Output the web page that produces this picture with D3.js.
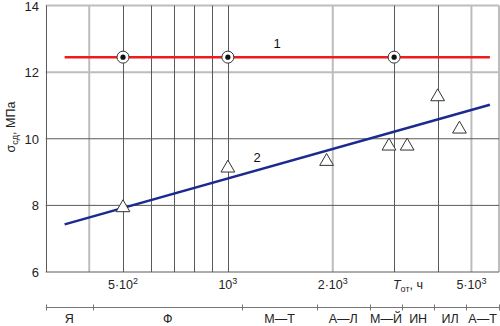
<!DOCTYPE html>
<html>
<head>
<meta charset="utf-8">
<script src="https://cdn.jsdelivr.net/npm/d3@7"></script>
<style>
  body { margin: 0; background: #fff; }
</style>
</head>
<body>
<div id="chart"></div>
<script>
// values
const yTicks = [6, 8, 10, 12, 14];
const yLight = [12, 14];
const xGridDark = [300, 500, 600, 700, 800, 900, 1000, 3000, 4000];
const xGridLight = [400, 2000, 5000, 6000];
const xTickHours = [500, 1000, 2000, 5000];
const xTickMant = ["5·10", "10", "2·10", "5·10"];
const xTickExp = ["2", "3", "3", "3"];

const line1 = [[340, 12.45], [5650, 12.45]];
const line1Marks = [500, 1000, 3000];
const line2 = [[340, 7.43], [5650, 11.02]];

const triHours = [500, 1000, 1920, 2900, 3270, 4000, 4620];
const triValues = [7.93, 9.12, 9.32, 9.78, 9.78, 11.26, 10.29];

const classNames = ["Я", "Ф", "М—Т", "А—Л", "М—Й", "ИН", "ИЛ", "А—Т"];
const classBounds = [300, 410, 1100, 1800, 2550, 3170, 3900, 4830, 6000];

const width = 500, height = 326;
const dark = "#5a5a5a", light = "#bdbdbd";

const svg = d3.select("#chart").append("svg")
  .attr("width", width)
  .attr("height", height)
  .style("font-family", "'Liberation Sans', Arial, sans-serif");

const x = d3.scaleLog().domain([300, 6000]).range([45.7, 499]);
const y = d3.scaleLinear().domain([6, 14]).range([272, 5.5]);

// light grid first, dark on top
svg.append("g").selectAll("line")
  .data(xGridLight)
  .join("line")
    .attr("x1", d => x(d)).attr("x2", d => x(d))
    .attr("y1", y(14)).attr("y2", y(6))
    .attr("stroke", light).attr("stroke-width", 2);

svg.append("g").selectAll("line")
  .data(yTicks)
  .join("line")
    .attr("x1", x(300)).attr("x2", x(6000))
    .attr("y1", d => y(d)).attr("y2", d => y(d))
    .attr("stroke", d => yLight.includes(d) ? light : dark)
    .attr("stroke-width", d => yLight.includes(d) ? 2 : 1);

svg.append("g").selectAll("line")
  .data(xGridDark)
  .join("line")
    .attr("x1", d => Math.round(x(d)) + 0.5).attr("x2", d => Math.round(x(d)) + 0.5)
    .attr("y1", y(14)).attr("y2", y(6))
    .attr("stroke", dark).attr("stroke-width", 1);

// y labels
svg.append("g").selectAll("text")
  .data(yTicks)
  .join("text")
    .attr("x", 39)
    .attr("y", d => y(d) + 5)
    .attr("text-anchor", "end")
    .attr("font-size", 13)
    .attr("fill", "#222")
    .text(d => d);

// y title
const yt = svg.append("text")
  .attr("transform", "translate(15,127) rotate(-90)")
  .attr("text-anchor", "middle")
  .attr("font-size", 12.5)
  .attr("fill", "#222");
yt.append("tspan").text("σ");
yt.append("tspan").attr("font-size", 9).attr("dy", 3).text("сд");
yt.append("tspan").attr("dy", -3).text(", МПа");

// x tick labels
const xt = svg.append("g").selectAll("text")
  .data(xTickHours)
  .join("text")
    .attr("x", d => x(d))
    .attr("y", 289)
    .attr("text-anchor", "middle")
    .attr("font-size", 12.5)
    .attr("fill", "#222");
xt.append("tspan").text((d, i) => xTickMant[i]);
xt.append("tspan").attr("font-size", 9).attr("dy", -5).text((d, i) => xTickExp[i]);

const tl = svg.append("text")
  .attr("x", 408).attr("y", 289)
  .attr("text-anchor", "middle")
  .attr("font-size", 12.5)
  .attr("fill", "#222");
tl.append("tspan").attr("font-style", "italic").text("T");
tl.append("tspan").attr("font-size", 9).attr("dy", 3).text("от");
tl.append("tspan").attr("dy", -3).text(", ч");

// lines
const lineGen = d3.line().x(d => x(d[0])).y(d => y(d[1]));
svg.append("path").datum(line1)
  .attr("d", lineGen)
  .attr("stroke", "#ee1c1c").attr("stroke-width", 2.5).attr("fill", "none");

// blue line is straight in log-time
svg.append("path").datum(line2)
  .attr("d", lineGen)
  .attr("stroke", "#1b2a8e").attr("stroke-width", 2.5).attr("fill", "none");

// circled dot markers
const cm = svg.append("g").selectAll("g")
  .data(line1Marks)
  .join("g")
    .attr("transform", d => `translate(${x(d)},${y(line1[0][1])})`);
cm.append("circle").attr("r", 6).attr("fill", "#fff").attr("stroke", "#333").attr("stroke-width", 1);
cm.append("circle").attr("r", 2.6).attr("fill", "#111");

// triangles
const tri = d3.symbol().type(d3.symbolTriangle).size(82);
svg.append("g").selectAll("path")
  .data(triHours)
  .join("path")
    .attr("d", tri)
    .attr("transform", (d, i) => `translate(${x(d)},${y(triValues[i])})`)
    .attr("fill", "#fff")
    .attr("stroke", "#333")
    .attr("stroke-width", 1);

// curve labels
svg.append("text").attr("x", 277).attr("y", 48)
  .attr("text-anchor", "middle").attr("font-size", 13).attr("fill", "#111").text("1");
svg.append("text").attr("x", 257).attr("y", 162)
  .attr("text-anchor", "middle").attr("font-size", 13).attr("fill", "#111").text("2");

// class band at bottom
const by = 307.5;
svg.append("line")
  .attr("x1", x(classBounds[0])).attr("x2", x(classBounds[classBounds.length - 1]))
  .attr("y1", by).attr("y2", by)
  .attr("stroke", "#777").attr("stroke-width", 1);
svg.append("g").selectAll("line")
  .data(classBounds)
  .join("line")
    .attr("x1", d => Math.round(x(d)) + 0.5).attr("x2", d => Math.round(x(d)) + 0.5)
    .attr("y1", by - 3).attr("y2", by + 3)
    .attr("stroke", "#777").attr("stroke-width", 1);
svg.append("g").selectAll("text")
  .data(classNames)
  .join("text")
    .attr("x", (d, i) => (x(classBounds[i]) + x(classBounds[i + 1])) / 2)
    .attr("y", 323)
    .attr("text-anchor", "middle")
    .attr("font-size", 12.5)
    .attr("fill", "#222")
    .text(d => d);
</script>
</body>
</html>
